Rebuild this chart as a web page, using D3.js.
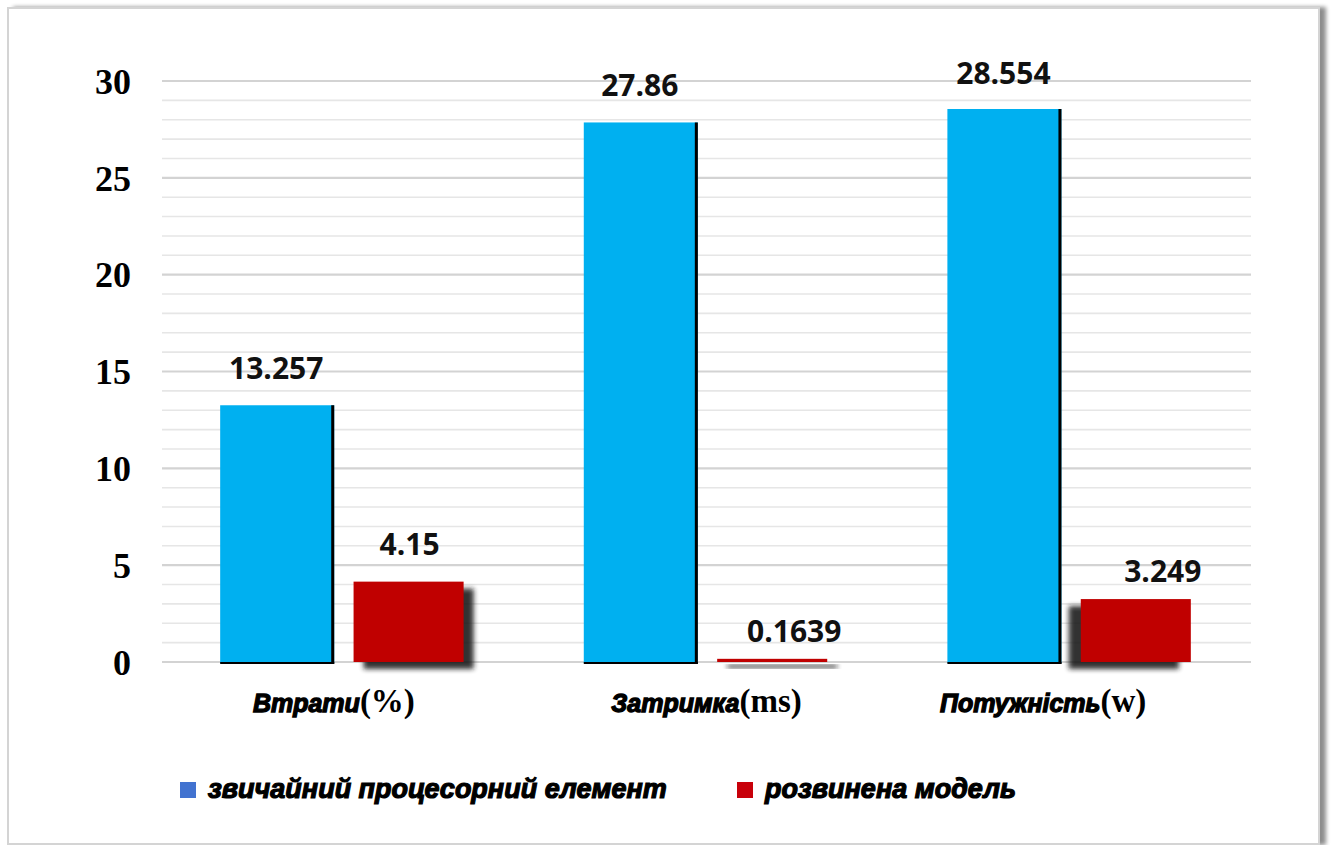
<!DOCTYPE html>
<html>
<head>
<meta charset="utf-8">
<script src="https://cdn.jsdelivr.net/npm/d3@7"></script>
<style>
  html, body { margin: 0; padding: 0; background: #ffffff; }
  svg { display: block; }
</style>
</head>
<body>
<svg id="chart" width="1331" height="845"></svg>
<script>
// Categories, units and series values
const categories = ["Втрати", "Затримка", "Потужність"];
const units = ["(%)", "(ms)", "(w)"];
const seriesNames = ["звичайний процесорний елемент", "розвинена модель"];
const conventionalValues = [13.257, 27.86, 28.554];
const developedValues = [4.15, 0.1639, 3.249];
const valueLabels = [["13.257", "27.86", "28.554"], ["4.15", "0.1639", "3.249"]];
const yTicks = [0, 5, 10, 15, 20, 25, 30];

const seriesColors = ["#00b0f0", "#c00000"];
const legendColors = ["#4273d0", "#c8000a"];

const svg = d3.select("#chart");

const defs = svg.append("defs");
// soft shadow at the frame's right side
const frameShadow = defs.append("filter").attr("id", "frameShadow")
  .attr("x", "-5%").attr("y", "-5%").attr("width", "115%").attr("height", "115%");
frameShadow.append("feGaussianBlur").attr("in", "SourceAlpha").attr("stdDeviation", 2);
frameShadow.append("feOffset").attr("dx", 6).attr("dy", 0).attr("result", "ob");
frameShadow.append("feComponentTransfer").append("feFuncA").attr("type", "linear").attr("slope", 0.45);
const fm = frameShadow.append("feMerge");
fm.append("feMergeNode");
fm.append("feMergeNode").attr("in", "SourceGraphic");

// blurred drop shadow for the red bars
const barBlur = defs.append("filter").attr("id", "barBlur")
  .attr("x", "-20%").attr("y", "-20%").attr("width", "140%").attr("height", "140%");
barBlur.append("feGaussianBlur").attr("stdDeviation", 2.5);

// chart frame
svg.append("rect")
  .attr("x", 8).attr("y", 8).attr("width", 1311).attr("height", 836)
  .attr("fill", "#ffffff").attr("stroke", "#d4d4d4").attr("stroke-width", 2)
  .attr("filter", "url(#frameShadow)");

// scales
const plotLeft = 162, plotRight = 1251;
const y = d3.scaleLinear().domain([0, 30]).range([662, 81]);
const x0 = d3.scaleBand().domain(categories).range([plotLeft, plotRight])
  .paddingInner(0.325).paddingOuter(0.16);
const x1 = d3.scaleBand().domain([0, 1]).range([0, x0.bandwidth()])
  .paddingInner(0.16).paddingOuter(0);

// gridlines: a light line every unit, a stronger one at each labelled tick
const minorTicks = d3.range(0, 31, 1);
svg.append("g").selectAll("line").data(minorTicks).join("line")
  .attr("x1", plotLeft).attr("x2", plotRight)
  .attr("y1", d => y(d)).attr("y2", d => y(d))
  .attr("stroke", d => d % 5 === 0 ? "#d3d3d3" : "#e6e6e6")
  .attr("stroke-width", d => d % 5 === 0 ? 2.2 : 1.6);

// y axis labels
const yAxis = d3.axisLeft(y).tickValues(yTicks).tickSize(0).tickPadding(0);
const yg = svg.append("g").attr("transform", "translate(131,0)").call(yAxis);
yg.select(".domain").remove();
yg.selectAll("text")
  .attr("font-family", "'Liberation Serif', 'Times New Roman', serif")
  .attr("font-weight", "bold").attr("font-size", 36).attr("fill", "#000")
  .attr("dy", "0.34em");

const seriesValues = [conventionalValues, developedValues];
const groups = svg.append("g").selectAll("g").data(categories).join("g")
  .attr("transform", d => `translate(${x0(d)},0)`);

// shadow direction of each red bar
const shadowShift = [[10, 5], [10, 4], [-12, 5]];

groups.each(function (cat, ci) {
  const g = d3.select(this);
  // red bar shadow
  const vRed = developedValues[ci];
  const rx = x1(1), rw = x1.bandwidth() - 2;
  g.append("rect")
    .attr("x", rx + shadowShift[ci][0]).attr("y", y(vRed) + shadowShift[ci][1] + 2)
    .attr("width", rw).attr("height", Math.max(1, y(0) - y(vRed)))
    .attr("fill", "#1a1a1a").attr("opacity", 0.9).attr("filter", "url(#barBlur)");
  // red bar
  g.append("rect")
    .attr("x", rx).attr("y", y(vRed))
    .attr("width", rw).attr("height", Math.max(2, y(0) - y(vRed)))
    .attr("fill", seriesColors[1]);

  // blue bar with dark right and bottom edges
  const vBlue = conventionalValues[ci];
  const bx = x1(0), bw = x1.bandwidth() + 2;
  g.append("rect")
    .attr("x", bx).attr("y", y(vBlue))
    .attr("width", bw).attr("height", y(0) - y(vBlue) + 1)
    .attr("fill", seriesColors[0]);
  g.append("line")
    .attr("x1", bx + bw - 1.5).attr("x2", bx + bw - 1.5)
    .attr("y1", y(vBlue)).attr("y2", y(0) + 2)
    .attr("stroke", "#000").attr("stroke-width", 3);
  g.append("line")
    .attr("x1", bx).attr("x2", bx + bw)
    .attr("y1", y(0) + 1).attr("y2", y(0) + 1)
    .attr("stroke", "#000").attr("stroke-width", 2);
});

// value labels above the bars
const labelShift = [[0, 0, 0], [0, 21, 26]];
const labelGap = [[26, 26, 25], [27, 17, 17]];
seriesValues.forEach((vals, si) => {
  svg.append("g").selectAll("text").data(vals).join("text")
    .attr("x", (d, i) => x0(categories[i]) + x1(si) + x1.bandwidth() / 2 + labelShift[si][i])
    .attr("y", (d, i) => y(d) - labelGap[si][i])
    .attr("text-anchor", "middle")
    .attr("font-family", "'Open Sans', 'Noto Sans', sans-serif")
    .attr("font-weight", 700).attr("font-size", 30).attr("fill", "#111")
    .text((d, i) => valueLabels[si][i]);
});

// category labels: heavy italic name plus the unit in serif
const catShift = [-9, 0, -27];
const catLabels = svg.append("g").selectAll("text").data(categories).join("text")
  .attr("x", (d, i) => x0(d) + x0.bandwidth() / 2 + catShift[i])
  .attr("y", 712)
  .attr("text-anchor", "middle");
catLabels.append("tspan")
  .attr("font-family", "'Liberation Sans', Arial, sans-serif")
  .attr("font-style", "italic").attr("font-weight", "bold").attr("font-size", 25)
  .attr("stroke", "#000").attr("stroke-width", 1.3).attr("fill", "#000")
  .text(d => d);
catLabels.append("tspan")
  .attr("font-family", "'Liberation Serif', 'Times New Roman', serif")
  .attr("font-weight", "bold").attr("font-size", 33).attr("fill", "#000")
  .text((d, i) => units[i]);

// legend
const legendX = [180, 737];
const legend = svg.append("g").selectAll("g").data(seriesNames).join("g")
  .attr("transform", (d, i) => `translate(${legendX[i]},782)`);
legend.append("rect")
  .attr("width", 16).attr("height", 16)
  .attr("fill", (d, i) => legendColors[i]);
legend.append("text")
  .attr("x", 28).attr("y", 16)
  .attr("font-family", "'Liberation Sans', Arial, sans-serif")
  .attr("font-style", "italic").attr("font-weight", "bold").attr("font-size", 27)
  .attr("stroke", "#000").attr("stroke-width", 1.2).attr("fill", "#000")
  .text(d => d);
</script>
</body>
</html>
